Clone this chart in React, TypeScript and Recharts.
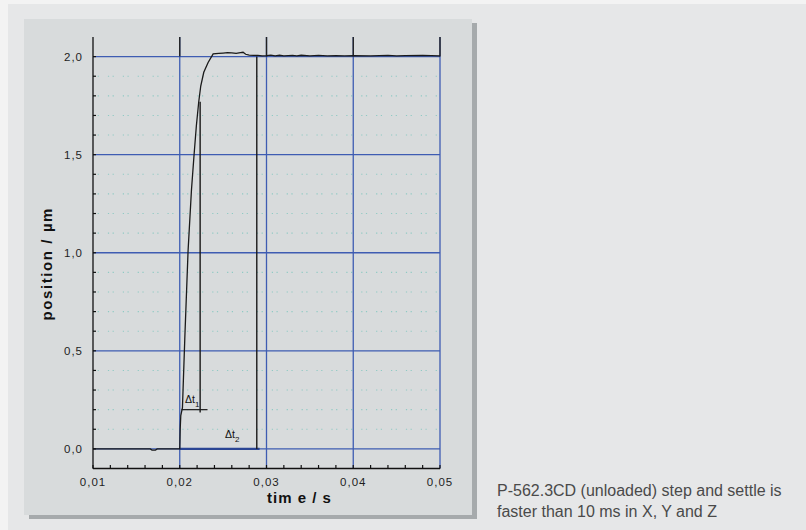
import React from 'react';
import {
  LineChart,
  Line,
  XAxis,
  YAxis,
  ReferenceLine,
  ReferenceDot,
} from 'recharts';

// ---- data ----
const timeS = [
  0.01, 0.0166, 0.0168, 0.0172, 0.0174, 0.02, 0.02005, 0.02012, 0.02031, 0.02058,
  0.02096, 0.02135, 0.02165, 0.02192, 0.02219, 0.02242, 0.02277, 0.02327, 0.02385,
  0.0245, 0.025, 0.0255, 0.026, 0.0265, 0.027, 0.0273, 0.0276, 0.028, 0.0285, 0.029,
  0.0295, 0.03, 0.0305, 0.031, 0.0315, 0.032, 0.033, 0.0335, 0.034, 0.035, 0.036,
  0.037, 0.038, 0.039, 0.04, 0.042, 0.044, 0.045, 0.046, 0.048, 0.05,
];
const positionUm = [
  0, 0, -0.006, -0.006, 0, 0, 0.1, 0.17, 0.21, 0.56,
  1.01, 1.32, 1.5, 1.65, 1.77, 1.85, 1.92, 1.97, 2.014,
  2.016, 2.018, 2.02, 2.019, 2.017, 2.02, 2.022, 2.012, 2.008, 2.006, 2.006,
  2.004, 2.005, 2.008, 2.004, 2.007, 2.004, 2.006, 2.004, 2.007, 2.004, 2.006,
  2.004, 2.005, 2.004, 2.005, 2.004, 2.006, 2.004, 2.005, 2.006, 2.004,
];

const xMajorTicks = [0.01, 0.02, 0.03, 0.04, 0.05];
const xTickLabels = ['0,01', '0,02', '0,03', '0,04', '0,05'];
const xMinorTicks = [
  0.01, 0.012, 0.014, 0.016, 0.018, 0.02, 0.022, 0.024, 0.026, 0.028, 0.03,
  0.032, 0.034, 0.036, 0.038, 0.04, 0.042, 0.044, 0.046, 0.048, 0.05,
];
const xGridLines = [0.02, 0.03, 0.04, 0.05];

const yMajorTicks = [0, 0.5, 1, 1.5, 2];
const yTickLabels = ['0,0', '0,5', '1,0', '1,5', '2,0'];
const yMinorTicks = [
  0, 0.1, 0.2, 0.3, 0.4, 0.5, 0.6, 0.7, 0.8, 0.9, 1, 1.1, 1.2, 1.3, 1.4, 1.5,
  1.6, 1.7, 1.8, 1.9, 2,
];
const yDottedLevels = [
  0.1, 0.2, 0.3, 0.4, 0.6, 0.7, 0.8, 0.9, 1.1, 1.2, 1.3, 1.4, 1.6, 1.7, 1.8, 1.9,
];

// annotation markers (Δt1 rise, Δt2 settle)
const riseVertical = [{ t: 0.02235, p: 0.185 }, { t: 0.02235, p: 1.77 }];
const riseBracket = [{ t: 0.0202, p: 0.2 }, { t: 0.0232, p: 0.2 }];
const settleVertical = [{ t: 0.02888, p: 0 }, { t: 0.02888, p: 2.0 }];
const settleBracket = [{ t: 0.02, p: 0 }, { t: 0.0292, p: 0 }];
const riseLabelAt = { t: 0.02141, p: 0.25, text: 'Δt', sub: '1' };
const settleLabelAt = { t: 0.02602, p: 0.07, text: 'Δt', sub: '2' };

const xDomain = [0.01, 0.05];
const yDomain = [-0.1, 2.1];

const chartData = timeS.map((t, i) => ({ t, p: positionUm[i] }));

const FONT = '"Liberation Sans", Arial, Helvetica, sans-serif';
const BLUE = '#3e5cb2';

const near = (a: number, b: number) => Math.abs(a - b) < 1e-9;
const fmtX = (v: number) => {
  const i = xMajorTicks.findIndex((m) => near(m, v));
  return i >= 0 ? xTickLabels[i] : '';
};
const fmtY = (v: number) => {
  const i = yMajorTicks.findIndex((m) => near(m, v));
  return i >= 0 ? yTickLabels[i] : '';
};

const XTitle = (props: any) => {
  const vb = props.viewBox || {};
  const x = vb.x + vb.width / 2 + 33;
  const y = vb.y + 34;
  return (
    <text x={x} y={y} textAnchor="middle" fontFamily={FONT} fontSize={15} fontWeight="bold" fill="#111" letterSpacing={1}>
      tim e / s
    </text>
  );
};

const YTitle = (props: any) => {
  const vb = props.viewBox || {};
  const cx = 52;
  const cy = vb.y + vb.height / 2 + 11;
  return (
    <text x={cx} y={cy} transform={`rotate(-90 ${cx} ${cy})`} textAnchor="middle" fontFamily={FONT} fontSize={15} fontWeight="bold" fill="#111" letterSpacing={1.6}>
      position / µm
    </text>
  );
};

const DtLabel = (text: string, sub: string) => (props: any) => {
  const vb = props.viewBox || {};
  const x = vb.x;
  const y = vb.y;
  return (
    <text x={x - 7} y={y + 3} fontFamily={FONT} fontSize={10.5} fill="#111">
      {text}
      <tspan dy={4} fontSize={8}>{sub}</tspan>
    </text>
  );
};

export default function App() {
  return (
    <div style={{ position: 'absolute', left: 0, top: 0, width: 806, height: 530, background: '#f3f3f3', overflow: 'hidden' }}>
      <div style={{ position: 'absolute', left: 8, top: 4, width: 798, height: 526, background: '#e6e7e8' }} />
      <div
        style={{
          position: 'absolute',
          left: 24,
          top: 19,
          width: 448,
          height: 496,
          background: '#d8dbdc',
          boxShadow: '5px 4px 0 #a6aaac',
        }}
      />
      <div
        style={{
          position: 'absolute',
          left: 497,
          top: 481,
          fontFamily: FONT,
          fontSize: 16,
          lineHeight: '20.5px',
          color: '#4a4a4a',
          whiteSpace: 'nowrap',
        }}
      >
        P-562.3CD (unloaded) step and settle is
        <br />
        faster than 10 ms in X, Y and Z
      </div>
      <div style={{ position: 'absolute', left: 0, top: 0 }}>
        <LineChart
          width={806}
          height={530}
          data={chartData}
          margin={{ top: 37, right: 366, left: 0, bottom: 0 }}
        >
          <XAxis
            dataKey="t"
            type="number"
            domain={xDomain}
            allowDataOverflow
            ticks={xMinorTicks}
            interval={0}
            tickSize={-3.5}
            tickMargin={13}
            tickFormatter={fmtX}
            tick={{ fill: '#1e1e1e', fontSize: 11.5, fontFamily: FONT, letterSpacing: 1 }}
            axisLine={{ stroke: '#111', strokeWidth: 1.3 }}
            tickLine={{ stroke: '#111', strokeWidth: 1.2 }}
            height={61.5}
            label={{ content: XTitle }}
          />
          <XAxis
            xAxisId="top"
            orientation="top"
            dataKey="t"
            type="number"
            domain={xDomain}
            allowDataOverflow
            ticks={xMinorTicks}
            interval={0}
            tick={false}
            tickSize={-4}
            axisLine={{ stroke: '#111', strokeWidth: 1.3 }}
            tickLine={{ stroke: '#111', strokeWidth: 1.2 }}
            height={0}
          />
          <YAxis
            type="number"
            domain={yDomain}
            allowDataOverflow
            ticks={yMinorTicks}
            interval={0}
            tickSize={-3}
            tickMargin={13}
            tickFormatter={fmtY}
            tick={{ fill: '#1e1e1e', fontSize: 11.5, fontFamily: FONT, letterSpacing: 1 }}
            axisLine={{ stroke: '#111', strokeWidth: 1.3 }}
            tickLine={{ stroke: '#111', strokeWidth: 1.2 }}
            width={93}
            label={{ content: YTitle }}
          />
          {yDottedLevels.map((v) => (
            <ReferenceLine key={`d${v}`} y={v} stroke="#8fcac4" strokeWidth={1.1} strokeDasharray="1.2 3.5 1.2 9" />
          ))}
          {yMajorTicks.map((v) => (
            <ReferenceLine key={`hy${v}`} y={v} stroke={BLUE} strokeWidth={1.3} />
          ))}
          {xGridLines.map((v) => (
            <ReferenceLine key={`vx${v}`} x={v} stroke={BLUE} strokeWidth={1.3} />
          ))}
          {xGridLines.map((v) => (
            <ReferenceLine
              key={`vt${v}`}
              segment={[{ x: v, y: yMajorTicks[yMajorTicks.length - 1] }, { x: v, y: yDomain[1] }]}
              stroke="#222"
              strokeWidth={1.4}
            />
          ))}
          <ReferenceLine
            segment={settleBracket.map((d) => ({ x: d.t, y: d.p }))}
            stroke="#2b4594"
            strokeWidth={2.4}
          />
          <ReferenceLine
            segment={settleVertical.map((d) => ({ x: d.t, y: d.p }))}
            stroke="#1a1a1a"
            strokeWidth={1.4}
          />
          <ReferenceLine
            segment={riseVertical.map((d) => ({ x: d.t, y: d.p }))}
            stroke="#1a1a1a"
            strokeWidth={1.4}
          />
          <ReferenceLine
            segment={riseBracket.map((d) => ({ x: d.t, y: d.p }))}
            stroke="#1a1a1a"
            strokeWidth={1.2}
          />
          <Line
            type="linear"
            dataKey="p"
            stroke="#1a1a1a"
            strokeWidth={1.3}
            dot={false}
            isAnimationActive={false}
          />
          <ReferenceDot
            x={riseLabelAt.t}
            y={riseLabelAt.p}
            r={0}
            fill="none"
            stroke="none"
            label={{ content: DtLabel(riseLabelAt.text, riseLabelAt.sub) }}
          />
          <ReferenceDot
            x={settleLabelAt.t}
            y={settleLabelAt.p}
            r={0}
            fill="none"
            stroke="none"
            label={{ content: DtLabel(settleLabelAt.text, settleLabelAt.sub) }}
          />
        </LineChart>
      </div>
    </div>
  );
}
